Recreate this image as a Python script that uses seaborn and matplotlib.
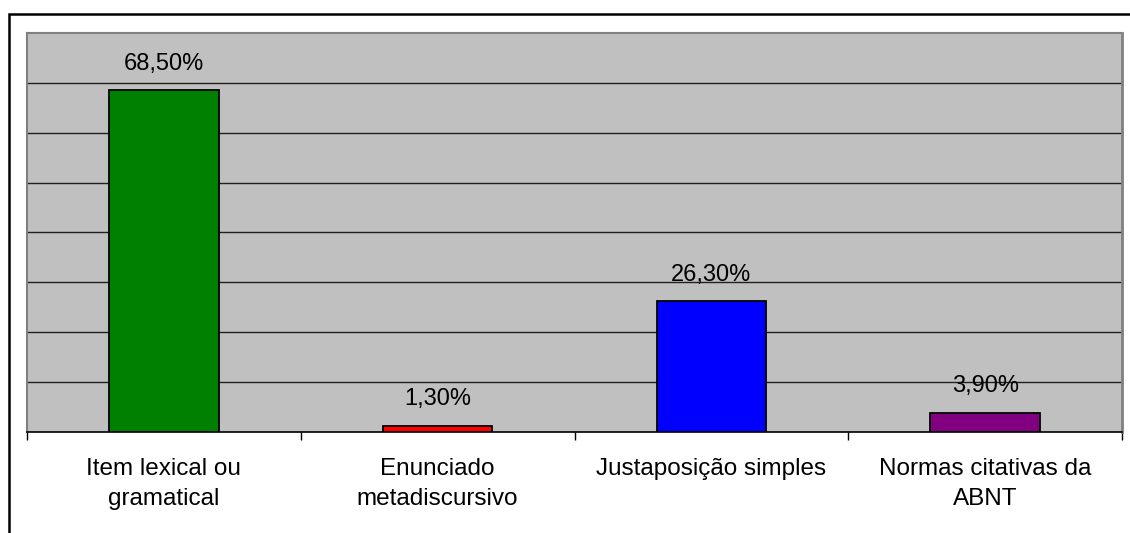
import matplotlib
matplotlib.use("Agg")
import matplotlib.pyplot as plt
import matplotlib.patches as mpatches
import seaborn as sns
import pandas as pd

categories = ["Item lexical ou\ngramatical", "Enunciado\nmetadiscursivo",
              "Justaposição simples", "Normas citativas da\nABNT"]
values = [68.5, 1.3, 26.3, 3.9]
value_labels = ["68,50%", "1,30%", "26,30%", "3,90%"]
colors = ["#008000", "#FF0000", "#0000FF", "#800080"]

sns.set_style("white")
plt.rcParams['font.family'] = ['Liberation Sans', 'DejaVu Sans']
plt.rcParams['text.color'] = 'black'
plt.rcParams['xtick.color'] = 'black'
plt.rcParams['xtick.labelcolor'] = 'black'

fig = plt.figure(figsize=(11.3, 5.33), dpi=100)
ax = fig.add_axes([27/1130, 1-432/533, (1122-27)/1130, (432-33)/533])

df = pd.DataFrame({"cat": categories, "val": values})
sns.barplot(data=df, x="cat", y="val", hue="cat", palette=colors, legend=False,
            width=0.4, saturation=1, edgecolor="black", linewidth=1.3, ax=ax, zorder=3)

ax.set_facecolor("#C0C0C0")
ax.set_ylim(0, 80)
ax.set_xlim(-0.5, 3.5)
for y in range(10, 80, 10):
    ax.axhline(y, color="#202020", lw=1.0, zorder=1)
ax.set_yticks([])
ax.set_xlabel("")
ax.set_ylabel("")

for s in ["top", "left"]:
    ax.spines[s].set_color("#808080")
    ax.spines[s].set_linewidth(1.5)
ax.spines["right"].set_color("#808080")
ax.spines["right"].set_linewidth(2.0)
ax.spines["bottom"].set_color("black")
ax.spines["bottom"].set_linewidth(1.2)

ax.set_xticks(range(4))
ax.set_xticklabels(categories, fontsize=17.5, linespacing=1.45, color="black")
ax.tick_params(axis="x", which="major", length=0, pad=19, bottom=True)
ax.set_xticks([-0.5, 0.5, 1.5, 2.5, 3.5], minor=True)
ax.tick_params(axis="x", which="minor", length=5.5, width=1, color="black",
               direction="out", bottom=True)

for i, (v, lab) in enumerate(zip(values, value_labels)):
    ax.annotate(lab, (i, v), xytext=(0, 11), textcoords="offset points",
                ha="center", va="bottom", fontsize=17, color="black", zorder=4)

border = mpatches.Rectangle((9/1130, -0.2), 1.2, 1.2 - 14/533, transform=fig.transFigure,
                            fill=False, edgecolor="black", lw=1.8, clip_on=False)
fig.patches.append(border)

fig.savefig("out.png", dpi=100, facecolor="white")
